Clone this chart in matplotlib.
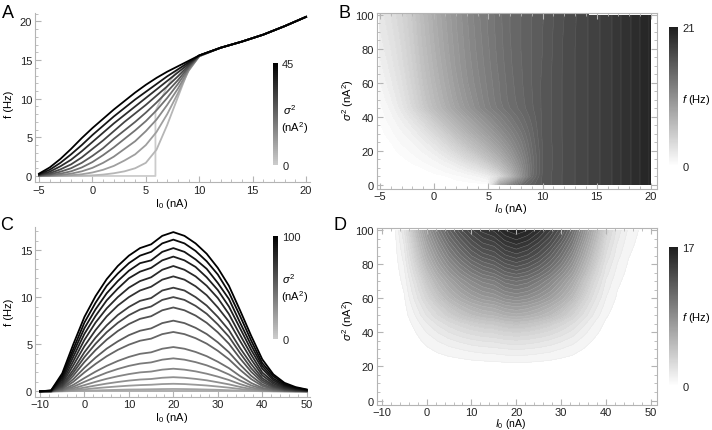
import numpy as np
import matplotlib
matplotlib.use('Agg')
import matplotlib.pyplot as plt
from matplotlib.colors import LinearSegmentedColormap, Normalize
from matplotlib.cm import ScalarMappable
from matplotlib.ticker import MultipleLocator

plt.rcParams['font.family'] = ['Liberation Sans', 'DejaVu Sans']
plt.rcParams['mathtext.fontset'] = 'custom'
plt.rcParams['mathtext.rm'] = 'Liberation Sans'
plt.rcParams['mathtext.it'] = 'Liberation Sans:italic'
plt.rcParams['mathtext.bf'] = 'Liberation Sans:bold'

# ---------------- data: panels A / B  (f vs I0 for several sigma^2)
ab_i0 = [-5, -4, -3, -2, -1, 0, 1, 2, 3, 4, 5, 6, 7, 8, 9, 10, 12, 14, 16, 18, 20]
ab_sig2 = [0, 5, 10, 15, 20, 25, 30, 35, 40, 45, 50, 60, 70, 80, 90, 100]
ab_rate = [
    [0, 0, 0, 0, 0, 0, 0, 0, 0, 0, 0, 8.7, 11.6, 13.7, 14.8, 15.6, 16.6, 17.4, 18.3, 19.4, 20.6],
    [0, 0, 0, 0.01, 0.03, 0.08, 0.18, 0.35, 0.6, 1.0, 1.7, 3.4, 6.6, 10.2, 13.8, 15.6, 16.6, 17.4, 18.3, 19.4, 20.6],
    [0, 0.01, 0.04, 0.1, 0.22, 0.45, 0.8, 1.3, 2.0, 2.8, 4.0, 5.7, 8.0, 10.7, 13.6, 15.5, 16.6, 17.4, 18.3, 19.4, 20.6],
    [0.01, 0.04, 0.13, 0.3, 0.6, 1.05, 1.7, 2.5, 3.5, 4.5, 5.8, 7.3, 9.2, 11.3, 13.7, 15.5, 16.6, 17.4, 18.3, 19.4, 20.6],
    [0.03, 0.1, 0.3, 0.6, 1.1, 1.8, 2.7, 3.7, 4.8, 5.9, 7.1, 8.5, 10.1, 11.9, 13.9, 15.5, 16.6, 17.4, 18.3, 19.4, 20.6],
    [0.06, 0.2, 0.55, 1.0, 1.7, 2.6, 3.6, 4.8, 5.9, 7.0, 8.2, 9.5, 10.9, 12.4, 14.1, 15.55, 16.6, 17.4, 18.3, 19.4, 20.6],
    [0.1, 0.35, 0.85, 1.5, 2.4, 3.5, 4.6, 5.8, 7.0, 8.1, 9.2, 10.4, 11.6, 12.9, 14.3, 15.6, 16.6, 17.4, 18.3, 19.4, 20.6],
    [0.15, 0.55, 1.25, 2.1, 3.2, 4.4, 5.6, 6.8, 7.9, 9.0, 10.1, 11.2, 12.3, 13.4, 14.5, 15.6, 16.6, 17.4, 18.3, 19.4, 20.6],
    [0.22, 0.8, 1.7, 2.8, 4.0, 5.3, 6.5, 7.7, 8.8, 9.9, 10.9, 11.9, 12.9, 13.8, 14.7, 15.6, 16.6, 17.4, 18.3, 19.4, 20.6],
    [0.3, 1.1, 2.2, 3.5, 4.9, 6.2, 7.4, 8.6, 9.7, 10.8, 11.8, 12.7, 13.5, 14.2, 14.9, 15.6, 16.6, 17.4, 18.3, 19.4, 20.6],
    [0.55, 1.4, 2.5, 3.8, 5.2, 6.5, 7.7, 8.9, 10.0, 11.0, 12.0, 12.9, 13.7, 14.3, 14.95, 15.6, 16.6, 17.4, 18.3, 19.4, 20.6],
    [0.95, 1.85, 2.9, 4.2, 5.6, 6.9, 8.1, 9.3, 10.4, 11.3, 12.2, 13.0, 13.8, 14.4, 15.0, 15.6, 16.6, 17.4, 18.3, 19.4, 20.6],
    [1.3, 2.2, 3.25, 4.5, 5.9, 7.2, 8.4, 9.6, 10.6, 11.5, 12.35, 13.15, 13.9, 14.45, 15.0, 15.55, 16.6, 17.4, 18.3, 19.4, 20.6],
    [1.65, 2.5, 3.5, 4.75, 6.15, 7.45, 8.65, 9.75, 10.75, 11.65, 12.45, 13.25, 13.95, 14.5, 15.0, 15.5, 16.6, 17.4, 18.3, 19.4, 20.6],
    [1.95, 2.75, 3.75, 4.95, 6.35, 7.65, 8.8, 9.9, 10.85, 11.75, 12.55, 13.3, 14.0, 14.5, 15.0, 15.5, 16.55, 17.4, 18.3, 19.4, 20.6],
    [2.2, 3.0, 3.95, 5.1, 6.5, 7.8, 8.95, 10.0, 10.95, 11.85, 12.6, 13.35, 14.0, 14.5, 15.0, 15.45, 16.5, 17.4, 18.3, 19.4, 20.6],
]
# deterministic curve (sigma^2 = 0) with its jump at threshold
det_i0 = [-5, 5.9, 5.9, 7, 7.7, 8, 9, 10, 12, 14, 16, 18, 20]
det_rate = [0, 0, 8.4, 11.6, 13.2, 13.7, 14.8, 15.6, 16.6, 17.4, 18.3, 19.4, 20.6]

# ---------------- data: panels C / D
cd_i0 = [-10, -7.5, -5, -2.5, 0, 2.5, 5, 7.5, 10, 12.5, 15, 17.5, 20, 22.5, 25,
         27.5, 30, 32.5, 35, 37.5, 40, 42.5, 45, 47.5, 50]
cd_sig2 = [0, 5, 10, 15, 20, 25, 30, 35, 40, 45, 50, 55, 60, 65, 70, 75, 80, 85, 90, 95, 100]
cd_rate = [
    [0] * 25,
    [0] * 25,
    [0] * 25,
    [0] * 25,
    [0, 0, 0, 0.03, 0.06, 0.1, 0.13, 0.16, 0.19, 0.2, 0.22, 0.24, 0.25, 0.24, 0.22, 0.19, 0.16, 0.12, 0.08, 0.04, 0.01, 0, 0, 0, 0],
    [0, 0, 0.02, 0.09, 0.21, 0.33, 0.43, 0.52, 0.6, 0.66, 0.7, 0.77, 0.8, 0.77, 0.7, 0.62, 0.51, 0.39, 0.25, 0.12, 0.05, 0.01, 0, 0, 0],
    [0, 0, 0.03, 0.18, 0.4, 0.62, 0.82, 0.99, 1.14, 1.25, 1.31, 1.44, 1.5, 1.44, 1.32, 1.17, 0.96, 0.74, 0.47, 0.24, 0.09, 0.03, 0.01, 0, 0],
    [0, 0, 0.06, 0.31, 0.66, 1.01, 1.33, 1.6, 1.83, 2.01, 2.1, 2.3, 2.4, 2.3, 2.12, 1.87, 1.56, 1.2, 0.77, 0.41, 0.16, 0.05, 0.02, 0, 0],
    [0, 0, 0.1, 0.48, 1.01, 1.51, 1.98, 2.37, 2.7, 2.94, 3.07, 3.36, 3.5, 3.36, 3.1, 2.76, 2.31, 1.79, 1.16, 0.63, 0.26, 0.09, 0.03, 0.01, 0],
    [0, 0, 0.15, 0.69, 1.41, 2.09, 2.7, 3.22, 3.65, 3.98, 4.14, 4.52, 4.7, 4.52, 4.18, 3.73, 3.14, 2.46, 1.62, 0.89, 0.37, 0.14, 0.05, 0.02, 0],
    [0, 0, 0.24, 1.01, 2.01, 2.91, 3.72, 4.4, 4.95, 5.37, 5.59, 6.07, 6.3, 6.07, 5.64, 5.06, 4.3, 3.4, 2.29, 1.3, 0.57, 0.22, 0.08, 0.03, 0.01],
    [0, 0, 0.32, 1.3, 2.5, 3.58, 4.53, 5.3, 5.96, 6.43, 6.68, 7.24, 7.5, 7.24, 6.74, 6.08, 5.2, 4.15, 2.84, 1.65, 0.74, 0.3, 0.11, 0.04, 0.01],
    [0, 0.01, 0.43, 1.66, 3.11, 4.38, 5.48, 6.4, 7.14, 7.69, 7.97, 8.6, 8.9, 8.6, 8.04, 7.27, 6.26, 5.05, 3.5, 2.08, 0.97, 0.41, 0.15, 0.06, 0.02],
    [0, 0.01, 0.54, 1.98, 3.63, 5.05, 6.27, 7.27, 8.08, 8.68, 9.0, 9.7, 10.0, 9.7, 9.07, 8.23, 7.1, 5.8, 4.07, 2.46, 1.18, 0.51, 0.2, 0.08, 0.03],
    [0, 0.02, 0.67, 2.3, 4.15, 5.7, 7.0, 8.1, 8.95, 9.6, 9.9, 10.7, 11.0, 10.7, 10.0, 9.1, 7.9, 6.5, 4.6, 2.9, 1.4, 0.63, 0.26, 0.11, 0.04],
    [0, 0.02, 0.84, 2.76, 4.8, 6.5, 7.95, 9.1, 10.0, 10.7, 11.1, 11.85, 12.2, 11.85, 11.15, 10.2, 8.9, 7.4, 5.35, 3.4, 1.7, 0.8, 0.34, 0.15, 0.05],
    [0, 0.03, 1.03, 3.2, 5.46, 7.3, 8.8, 10.0, 11.0, 11.7, 12.1, 12.9, 13.3, 12.9, 12.2, 11.2, 9.9, 8.2, 6.0, 3.9, 2.0, 0.97, 0.43, 0.19, 0.08],
    [0, 0.05, 1.23, 3.66, 6.1, 8.0, 9.65, 10.9, 12.0, 12.7, 13.1, 13.9, 14.3, 13.9, 13.2, 12.1, 10.75, 9.0, 6.7, 4.4, 2.4, 1.17, 0.53, 0.25, 0.1],
    [0, 0.06, 1.43, 4.1, 6.7, 8.7, 10.4, 11.7, 12.8, 13.6, 13.9, 14.8, 15.2, 14.8, 14.0, 13.0, 11.5, 9.8, 7.3, 4.9, 2.7, 1.36, 0.64, 0.31, 0.13],
    [0, 0.08, 1.65, 4.5, 7.3, 9.4, 11.2, 12.5, 13.6, 14.4, 14.8, 15.7, 16.1, 15.7, 14.9, 13.8, 12.4, 10.5, 8.0, 5.4, 3.0, 1.6, 0.75, 0.38, 0.16],
    [0, 0.1, 1.9, 5.0, 7.9, 10.1, 11.9, 13.3, 14.4, 15.2, 15.6, 16.5, 16.9, 16.5, 15.7, 14.6, 13.1, 11.2, 8.6, 5.9, 3.4, 1.8, 0.9, 0.45, 0.2],
]

W, H = 712, 431
fig = plt.figure(figsize=(W / 100, H / 100), dpi=100)

def px_axes(l, t, r, b):
    return fig.add_axes([l / W, 1 - b / H, (r - l) / W, (b - t) / H])

def px_text(x, y, s, **kw):
    fig.text(x / W, 1 - y / H, s, **kw)

line_cmap = LinearSegmentedColormap.from_list('lines', [(0.8, 0.8, 0.8), (0, 0, 0)])
fill_cmap = LinearSegmentedColormap.from_list('fill', [(1, 1, 1), (0.12, 0.12, 0.12)])

axcol = '#b4b4b4'
fs = 8
tick_kw = dict(direction='in', colors=axcol, labelcolor='#222222', labelsize=fs, pad=2)

def open_axes(ax):
    for s in ['top', 'right']:
        ax.spines[s].set_visible(False)
    for s in ['left', 'bottom']:
        ax.spines[s].set_color(axcol)
        ax.spines[s].set_linewidth(0.8)
    ax.tick_params(which='both', **tick_kw)
    ax.tick_params(which='major', length=4)
    ax.tick_params(which='minor', length=2)

def frame_axes(ax):
    for s in ax.spines.values():
        s.set_color(axcol)
        s.set_linewidth(0.8)
    ax.tick_params(which='both', top=True, right=True, **tick_kw)
    ax.tick_params(which='major', length=4)
    ax.tick_params(which='minor', length=2)
    ax.tick_params(axis='x', pad=1.5)

def colorbar(l, t, r, b, cmap, vmax):
    cax = px_axes(l, t, r, b)
    cb = fig.colorbar(ScalarMappable(norm=Normalize(0, vmax), cmap=cmap), cax=cax)
    cb.set_ticks([0, vmax])
    cb.outline.set_visible(False)
    cax.tick_params(length=0, labelsize=fs, pad=3, labelcolor='#222222')
    return cb

# ---------------- A
axA = px_axes(35, 14, 310, 183)
axA.plot(det_i0, det_rate, color=line_cmap(0.0), lw=1.3)
for k in range(1, 10):
    axA.plot(ab_i0, ab_rate[k], color=line_cmap(ab_sig2[k] / 45), lw=1.3)
axA.set_xlim(-5.375, 20.37)
axA.set_ylim(-0.78, 21.1)
axA.xaxis.set_major_locator(MultipleLocator(5))
axA.xaxis.set_minor_locator(MultipleLocator(1))
axA.yaxis.set_major_locator(MultipleLocator(5))
axA.yaxis.set_minor_locator(MultipleLocator(1))
open_axes(axA)
colorbar(273, 64, 278, 166, line_cmap, 45)
px_text(290, 110, r'$\sigma^2$', fontsize=fs, ha='center', va='center')
px_text(295, 128, r'(nA$^2$)', fontsize=fs, ha='center', va='center')
px_text(9, 104, 'f (Hz)', fontsize=fs, rotation=90, ha='center', va='center')
px_text(172, 204, r'I$_0$ (nA)', fontsize=fs, ha='center', va='center')

# ---------------- B
axB = px_axes(376.7, 14, 656.7, 190)
levB = [0.2] + list(np.arange(0.5, 21.01, 0.5))
axB.contourf(ab_i0, ab_sig2, ab_rate, levels=levB, cmap=fill_cmap, vmin=0, vmax=21)
axB.contour(ab_i0, ab_sig2, ab_rate, levels=levB, colors='white', linewidths=0.3, alpha=0.18)
axB.set_xlim(-5.3, 20.53)
axB.set_ylim(-2.53, 101)
axB.xaxis.set_major_locator(MultipleLocator(5))
axB.xaxis.set_minor_locator(MultipleLocator(1))
axB.yaxis.set_major_locator(MultipleLocator(20))
axB.yaxis.set_minor_locator(MultipleLocator(5))
frame_axes(axB)
colorbar(669, 28, 678, 167, fill_cmap, 21)
px_text(682, 100, r'$f$ (Hz)', fontsize=fs, ha='left', va='center')
px_text(348, 100, r'$\sigma^2$ (nA$^2$)', fontsize=fs, rotation=90, ha='center', va='center')
px_text(511, 209, r'$I_0$ (nA)', fontsize=fs, ha='center', va='center')

# ---------------- C
axC = px_axes(35, 228, 310, 397.7)
for k in range(len(cd_sig2)):
    axC.plot(cd_i0, cd_rate[k], color=line_cmap(cd_sig2[k] / 100), lw=1.3)
axC.set_xlim(-11.12, 50.74)
axC.set_ylim(-0.57, 17.44)
axC.xaxis.set_major_locator(MultipleLocator(10))
axC.xaxis.set_minor_locator(MultipleLocator(2))
axC.yaxis.set_major_locator(MultipleLocator(5))
axC.yaxis.set_minor_locator(MultipleLocator(1))
open_axes(axC)
colorbar(273, 237, 278, 340, line_cmap, 100)
px_text(289, 279, r'$\sigma^2$', fontsize=fs, ha='center', va='center')
px_text(295, 297, r'(nA$^2$)', fontsize=fs, ha='center', va='center')
px_text(9, 312, 'f (Hz)', fontsize=fs, rotation=90, ha='center', va='center')
px_text(172, 418, r'I$_0$ (nA)', fontsize=fs, ha='center', va='center')

# ---------------- D
axD = px_axes(376.7, 228.5, 656.7, 405.5)
levD = list(np.arange(0.5, 17.01, 0.5))
axD.contourf(cd_i0, cd_sig2, cd_rate, levels=levD, cmap=fill_cmap, vmin=0, vmax=17)
axD.contour(cd_i0, cd_sig2, cd_rate, levels=levD, colors='#dddddd', linewidths=0.3, alpha=0.5)
axD.set_xlim(-11.11, 51.27)
axD.set_ylim(-2.34, 101.6)
axD.xaxis.set_major_locator(MultipleLocator(10))
axD.xaxis.set_minor_locator(MultipleLocator(2))
axD.yaxis.set_major_locator(MultipleLocator(20))
axD.yaxis.set_minor_locator(MultipleLocator(5))
frame_axes(axD)
colorbar(669, 248, 678, 387, fill_cmap, 17)
px_text(682, 318, r'$f$ (Hz)', fontsize=fs, ha='left', va='center')
px_text(348, 320, r'$\sigma^2$ (nA$^2$)', fontsize=fs, rotation=90, ha='center', va='center')
px_text(511, 424.5, r'$I_0$ (nA)', fontsize=7.5, ha='center', va='center')

# panel letters
for x, y, s in [(8, 13, 'A'), (344, 13, 'B'), (7, 226, 'C'), (340, 226, 'D')]:
    px_text(x, y, s, fontsize=13, ha='center', va='center')

fig.savefig('out.png', dpi=100)
